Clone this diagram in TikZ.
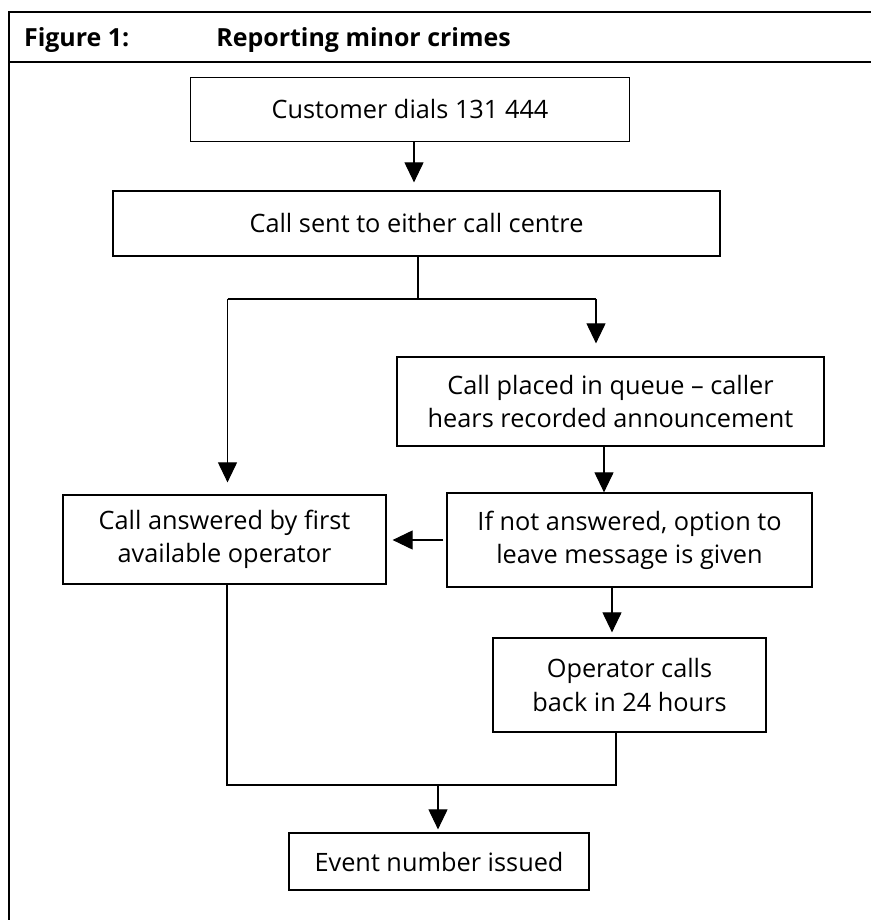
\documentclass[tikz,border=0pt]{standalone}
\usepackage{fontspec}
\setmainfont{Open Sans}
\usetikzlibrary{arrows.meta}
\usetikzlibrary{positioning}
\tikzset{
  procbox/.style={rectangle, draw=black, line width=0.7pt, align=center, inner sep=0pt, font=\fontsize{14.4}{18.8}\selectfont},
  flow/.style={draw=black, line width=0.6pt},
  flowarrow/.style={flow, -{Triangle[width=0.38cm,length=0.4cm]}},
  heading/.style={anchor=base west, inner sep=0pt, font=\bfseries\fontsize{14.2}{16}\selectfont}
}

\begin{document}
\begin{tikzpicture}
\useasboundingbox (0,0) rectangle (17.42,-18.4);

% frame and heading
\draw[line width=1.2pt] (17.6,-0.246) -- (0.18,-0.246) -- (0.18,-18.6);
\draw[line width=1.2pt] (0.18,-1.246) -- (17.6,-1.246);
\node at (0.474,-0.934) [heading] (fignum) {Figure 1:};
\node at (4.32,-0.934) [heading] (figtitle) {Reporting minor crimes};

% boxes
\node at (8.2,-2.19) [procbox, minimum width=8.78cm, minimum height=1.29cm] (dial) {Customer dials 131 444};
\node at (8.33,-4.47) [procbox, minimum width=12.14cm, minimum height=1.30cm] (sent) {Call sent to either call centre};
\node at (12.21,-8.03) [procbox, minimum width=8.54cm, minimum height=1.78cm] (queue) {Call placed in queue – caller\\ hears recorded announcement};
\node at (4.49,-10.79) [procbox, minimum width=6.46cm, minimum height=1.78cm] (answer) {Call answered by first\\ available operator};
\node at (12.59,-10.80) [procbox, minimum width=7.30cm, minimum height=1.88cm] (message) {If not answered, option to\\ leave message is given};
\node at (12.59,-13.70) [procbox, minimum width=5.46cm, minimum height=1.88cm] (callback) {Operator calls\\ back in 24 hours};
\node at (8.78,-17.23) [procbox, minimum width=6.0cm, minimum height=1.14cm] (event) {Event number issued};

% junction points
\coordinate (fork) at (8.36,-5.98);
\coordinate (forkl) at (4.55,-5.98);
\coordinate (forkr) at (11.92,-5.98);
\coordinate (join) at (8.76,-15.70);
\coordinate (joinl) at (4.54,-15.70);
\coordinate (joinr) at (12.32,-15.70);

% connectors
\draw[flowarrow, shorten >=0.16cm] ([xshift=0.08cm]dial.south) -- ([xshift=0.08cm]dial.south |- sent.north);
\draw[flow] (fork |- sent.south) -- (fork);
\draw[flow] (forkl) -- (forkr);
\draw[flowarrow, shorten >=0.26cm] (forkr) -- (forkr |- queue.north);
\draw[flowarrow, shorten >=0.24cm] (forkl) -- (forkl |- answer.north);
\draw[flowarrow] ([xshift=-0.13cm]queue.south) -- ([xshift=-0.13cm]queue.south |- message.north);
\draw[flowarrow, shorten >=0.12cm] ([xshift=-0.06cm]message.west) -- (answer.east |- message.west);
\draw[flowarrow, shorten >=0.1cm] ([xshift=-0.35cm]message.south) -- ([xshift=-0.35cm]message.south |- callback.north);
\draw[flow] (joinl |- answer.south) -- (joinl) -- (joinr) -- (joinr |- callback.south);
\draw[flowarrow, shorten >=0.06cm] (join) -- (join |- event.north);

\end{tikzpicture}
\end{document}
